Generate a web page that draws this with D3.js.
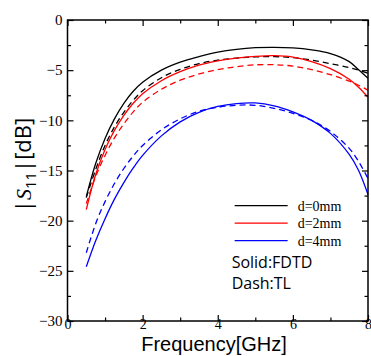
<!DOCTYPE html>
<html>
<head>
<meta charset="utf-8">
<script src="https://cdn.jsdelivr.net/npm/d3@7"></script>
<style>
  html, body { margin: 0; padding: 0; background: #fff; }
  svg { display: block; }
</style>
</head>
<body>
<div id="chart"></div>
<script>
// frequency samples (GHz)
const freq = [0.5, 0.75, 1.0, 1.25, 1.5, 1.75, 2.0, 2.5, 3.0, 3.5, 4.0, 4.5, 5.0, 5.5, 6.0, 6.5, 7.0, 7.5, 7.75, 8.0];

// |S11| in dB, solid = FDTD, dashed = TL
const fdtd0 = [-17.6, -14.3, -11.8, -9.85, -8.3, -7.1, -6.2, -5.0, -4.2, -3.65, -3.2, -2.92, -2.76, -2.72, -2.78, -2.98, -3.35, -4.15, -4.95, -5.8];
const tl0   = [-17.7, -14.9, -12.5, -10.65, -9.2, -8.0, -7.05, -5.75, -4.92, -4.35, -4.0, -3.8, -3.68, -3.65, -3.75, -4.0, -4.35, -4.75, -5.0, -5.3];
const fdtd2 = [-18.9, -15.4, -12.9, -11.0, -9.5, -8.3, -7.35, -6.05, -5.15, -4.5, -4.08, -3.8, -3.63, -3.56, -3.7, -4.15, -4.85, -5.9, -6.7, -7.7];
const tl2   = [-18.3, -15.6, -13.5, -11.75, -10.35, -9.15, -8.2, -6.9, -6.0, -5.38, -4.95, -4.65, -4.47, -4.45, -4.6, -4.95, -5.45, -6.1, -6.5, -7.0];
const fdtd4 = [-24.6, -22.0, -19.8, -17.85, -16.2, -14.75, -13.5, -11.55, -10.15, -9.2, -8.62, -8.33, -8.27, -8.55, -9.15, -10.0, -11.3, -13.4, -15.0, -17.4];
const tl4   = [-23.2, -20.3, -18.1, -16.3, -14.8, -13.55, -12.5, -10.95, -9.85, -9.1, -8.7, -8.5, -8.5, -8.8, -9.3, -10.0, -11.1, -12.8, -14.1, -15.8];

const legendLabels = ['d=0mm', 'd=2mm', 'd=4mm'];
const xMajor = [0, 2, 4, 6, 8];
const xMinor = [1, 3, 5, 7];
const yMajor = [0, -5, -10, -15, -20, -25, -30];
const yMinor = [-2.5, -7.5, -12.5, -17.5, -22.5, -27.5];

const series = [
  { name: 'd=0mm', values: fdtd0, color: '#000', dash: null },
  { name: 'd=0mm', values: tl0, color: '#000', dash: '6,4' },
  { name: 'd=2mm', values: fdtd2, color: '#ff0000', dash: null },
  { name: 'd=2mm', values: tl2, color: '#ff0000', dash: '6,4' },
  { name: 'd=4mm', values: fdtd4, color: '#0000ff', dash: null },
  { name: 'd=4mm', values: tl4, color: '#0000ff', dash: '6,4' }
];
const colors = ['#000', '#ff0000', '#0000ff'];

const width = 371, height = 356;
const margin = { top: 20, right: 3, bottom: 35, left: 67.5 };
const plotW = width - margin.left - margin.right;
const plotH = height - margin.top - margin.bottom;

const svg = d3.select('#chart').append('svg')
  .attr('width', width)
  .attr('height', height);

const g = svg.append('g')
  .attr('transform', `translate(${margin.left},${margin.top})`);

const x = d3.scaleLinear().domain([0, 8]).range([0, plotW]);
const y = d3.scaleLinear().domain([-30, 0]).range([plotH, 0]);

// curves
const line = d3.line()
  .x((d, i) => x(freq[i]))
  .y(d => y(d))
  .curve(d3.curveCatmullRom.alpha(0.5));

g.append('g').selectAll('path')
  .data(series)
  .enter()
  .append('path')
  .attr('d', d => line(d.values))
  .attr('fill', 'none')
  .attr('stroke', d => d.color)
  .attr('stroke-width', 1.3)
  .attr('stroke-dasharray', d => d.dash);

// axes, ticks pointing inward on all four sides
const serif = '"Liberation Serif", "Times New Roman", serif';

function styleAxis(sel) {
  sel.attr('font-family', serif);
  sel.select('.domain').remove();
  sel.selectAll('line').attr('stroke', '#000').attr('stroke-width', 1.2);
  sel.selectAll('text').attr('font-family', serif).attr('font-size', '15px').attr('fill', '#000');
}

g.append('g')
  .attr('transform', `translate(0,${plotH})`)
  .call(d3.axisBottom(x).tickValues(xMajor).tickSize(-6).tickPadding(-2).tickFormat(d3.format('d')))
  .call(styleAxis)
  .call(s => s.selectAll('text').attr('font-size', '14px'));
g.append('g')
  .attr('transform', `translate(0,${plotH})`)
  .call(d3.axisBottom(x).tickValues(xMinor).tickSize(-3.5).tickFormat(''))
  .call(styleAxis);
g.append('g')
  .call(d3.axisTop(x).tickValues(xMajor).tickSize(-6).tickFormat(''))
  .call(styleAxis);
g.append('g')
  .call(d3.axisTop(x).tickValues(xMinor).tickSize(-3.5).tickFormat(''))
  .call(styleAxis);

g.append('g')
  .call(d3.axisLeft(y).tickValues(yMajor).tickSize(-6).tickPadding(5).tickFormat(d3.format('d')))
  .call(styleAxis);
g.append('g')
  .call(d3.axisLeft(y).tickValues(yMinor).tickSize(-3.5).tickFormat(''))
  .call(styleAxis);
g.append('g')
  .attr('transform', `translate(${plotW},0)`)
  .call(d3.axisRight(y).tickValues(yMajor).tickSize(-6).tickFormat(''))
  .call(styleAxis);
g.append('g')
  .attr('transform', `translate(${plotW},0)`)
  .call(d3.axisRight(y).tickValues(yMinor).tickSize(-3.5).tickFormat(''))
  .call(styleAxis);

// frame
g.append('rect')
  .attr('width', plotW)
  .attr('height', plotH)
  .attr('fill', 'none')
  .attr('stroke', '#000')
  .attr('stroke-width', 1.5);

// legend
const legend = g.append('g').attr('transform', `translate(${x(4.45)},${y(-18.5)})`);
legendLabels.forEach((lab, i) => {
  legend.append('line')
    .attr('x1', 0).attr('x2', 53)
    .attr('y1', i * 17.5).attr('y2', i * 17.5)
    .attr('stroke', colors[i])
    .attr('stroke-width', 1.3);
  legend.append('text')
    .attr('x', 63)
    .attr('y', i * 17.5 + 5)
    .attr('font-family', serif)
    .attr('font-size', '14px')
    .text(lab);
});

const sans = '"Open Sans", "Liberation Sans", sans-serif';
g.append('text')
  .attr('x', x(4.37))
  .attr('y', y(-24.7))
  .attr('font-family', sans)
  .attr('font-size', '16px')
  .text('Solid:FDTD');
g.append('text')
  .attr('x', x(4.37))
  .attr('y', y(-26.8))
  .attr('font-family', sans)
  .attr('font-size', '16px')
  .text('Dash:TL');

// axis titles
svg.append('text')
  .attr('x', margin.left + x(3.9))
  .attr('y', 351)
  .attr('text-anchor', 'middle')
  .attr('font-family', '"Liberation Sans", Arial, sans-serif')
  .attr('font-size', '20px')
  .text('Frequency[GHz]');

const yTitle = svg.append('text')
  .attr('transform', 'translate(31,165) rotate(-90)')
  .attr('text-anchor', 'middle')
  .attr('font-family', sans)
  .attr('font-size', '22px');
yTitle.append('tspan').text('|');
yTitle.append('tspan').attr('font-style', 'italic').attr('font-family', serif).text('S');
yTitle.append('tspan').attr('font-size', '15px').attr('dy', 5).text('11');
yTitle.append('tspan').attr('dy', -5).text('|[dB]');
</script>
</body>
</html>
